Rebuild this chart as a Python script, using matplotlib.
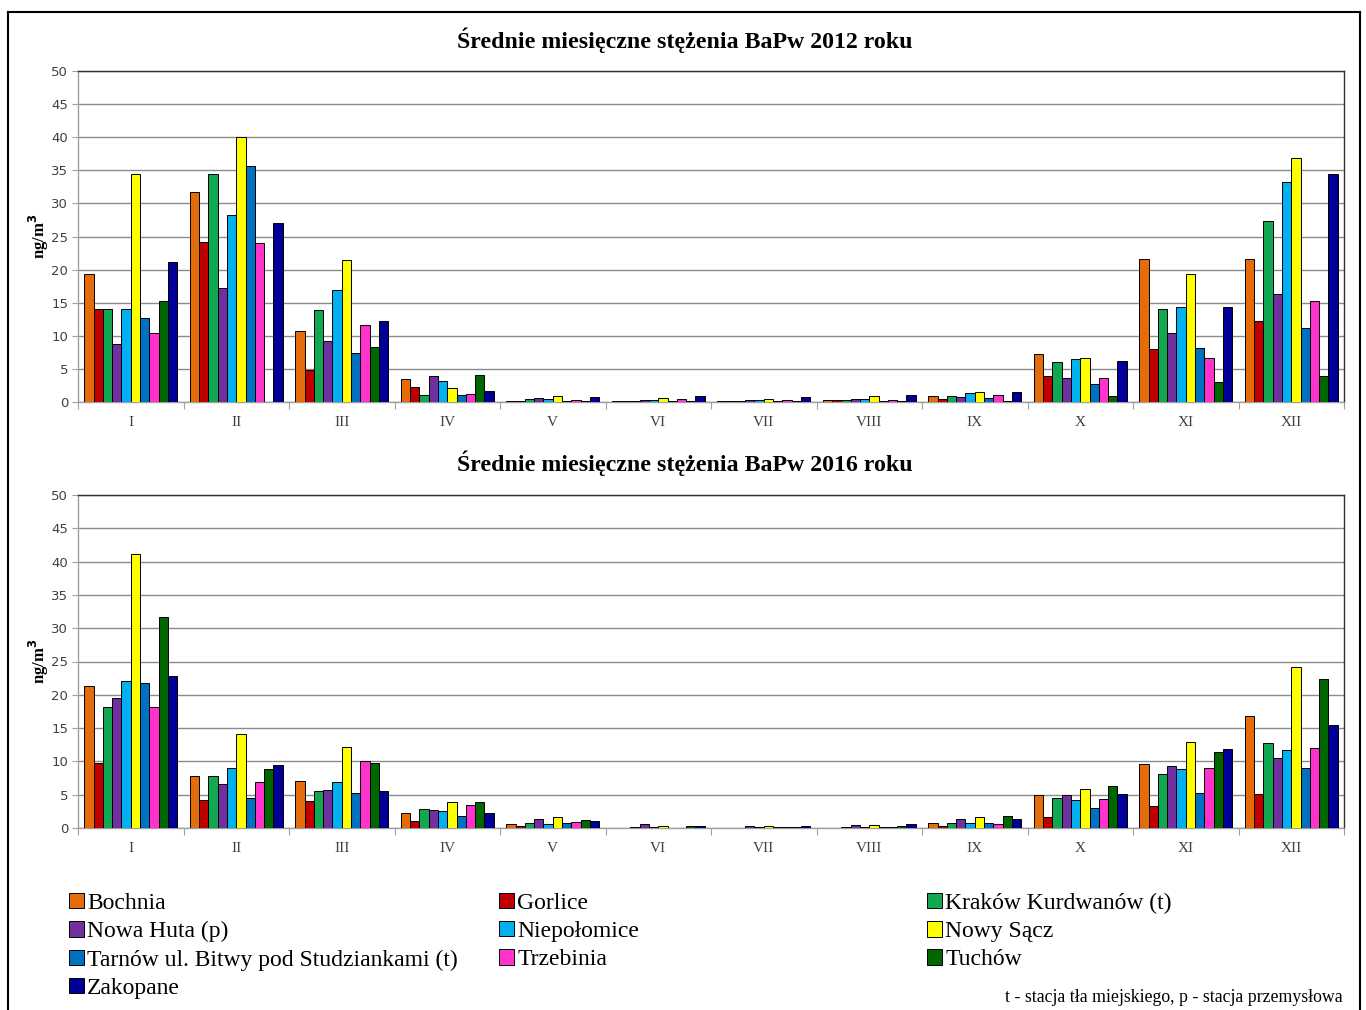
import matplotlib
matplotlib.use('Agg')
import matplotlib.pyplot as plt
import numpy as np
from matplotlib.patches import Patch
from matplotlib.lines import Line2D

months = ['I', 'II', 'III', 'IV', 'V', 'VI', 'VII', 'VIII', 'IX', 'X', 'XI', 'XII']

stations = ['Bochnia', 'Gorlice', 'Kraków Kurdwanów (t)', 'Nowa Huta (p)', 'Niepołomice',
            'Nowy Sącz', 'Tarnów ul. Bitwy pod Studziankami (t)', 'Trzebinia', 'Tuchów', 'Zakopane']

colors = ['#E46C0A', '#C00000', '#12A852', '#7030A0', '#00B0F0',
          '#FFFF00', '#0070C0', '#FF33CC', '#006600', '#000099']

# rows = months, columns = stations (same order as above)
bap_2012 = [
    [19.4, 14.1, 14.1, 8.7, 14.1, 34.5, 12.7, 10.4, 15.2, 21.2],
    [31.7, 24.2, 34.4, 17.2, 28.2, 40.1, 35.6, 24.0, 0.0, 27.1],
    [10.8, 4.8, 13.9, 9.2, 16.9, 21.5, 7.4, 11.6, 8.3, 12.3],
    [3.4, 2.2, 1.0, 3.9, 3.2, 2.1, 1.0, 1.2, 4.1, 1.7],
    [0.2, 0.2, 0.45, 0.55, 0.4, 0.85, 0.2, 0.35, 0.15, 0.75],
    [0.15, 0.1, 0.15, 0.25, 0.25, 0.55, 0.1, 0.4, 0.1, 0.85],
    [0.2, 0.15, 0.15, 0.25, 0.25, 0.45, 0.1, 0.35, 0.1, 0.75],
    [0.3, 0.3, 0.3, 0.4, 0.4, 0.85, 0.15, 0.35, 0.1, 1.05],
    [0.85, 0.45, 0.85, 0.7, 1.4, 1.55, 0.55, 1.0, 0.15, 1.55],
    [7.25, 3.9, 6.05, 3.6, 6.45, 6.6, 2.7, 3.6, 0.9, 6.15],
    [21.6, 8.05, 14.0, 10.45, 14.4, 19.4, 8.2, 6.7, 3.05, 14.4],
    [21.6, 12.2, 27.4, 16.3, 33.2, 36.8, 11.15, 15.3, 4.0, 34.4],
]

bap_2016 = [
    [21.35, 9.7, 18.1, 19.45, 22.0, 41.1, 21.75, 18.1, 31.7, 22.8],
    [7.75, 4.15, 7.85, 6.55, 9.0, 14.1, 4.55, 6.9, 8.85, 9.5],
    [7.05, 4.0, 5.6, 5.75, 6.95, 12.15, 5.2, 10.05, 9.8, 5.6],
    [2.25, 1.0, 2.9, 2.75, 2.6, 3.9, 1.8, 3.45, 3.9, 2.25],
    [0.6, 0.3, 0.75, 1.3, 0.6, 1.7, 0.75, 0.85, 1.15, 1.0],
    [0.05, 0.05, 0.2, 0.6, 0.1, 0.35, 0.05, 0.05, 0.3, 0.3],
    [0.05, 0.05, 0.05, 0.35, 0.1, 0.25, 0.1, 0.2, 0.2, 0.3],
    [0.05, 0.05, 0.2, 0.45, 0.2, 0.45, 0.1, 0.2, 0.3, 0.6],
    [0.7, 0.3, 0.7, 1.4, 0.7, 1.7, 0.7, 0.55, 1.8, 1.4],
    [4.9, 1.6, 4.55, 4.95, 4.25, 5.9, 2.95, 4.4, 6.3, 5.1],
    [9.65, 3.35, 8.15, 9.35, 8.85, 12.95, 5.25, 9.0, 11.35, 11.8],
    [16.85, 5.1, 12.7, 10.55, 11.65, 24.1, 9.0, 11.95, 22.35, 15.4],
]

titles = ['Średnie miesięczne stężenia BaPw 2012 roku',
          'Średnie miesięczne stężenia BaPw 2016 roku']

SERIF = 'Liberation Serif'

fig = plt.figure(figsize=(13.66, 10.10), dpi=100)
fig.patch.set_facecolor('white')

W, H = 1366.0, 1010.0


def draw_panel(ax, data):
    data = np.array(data)
    n = data.shape[1]
    x = np.arange(len(months))
    bw = 0.088
    for j in range(n):
        ax.bar(x + (j - (n - 1) / 2) * bw, data[:, j], width=bw, color=colors[j],
               edgecolor='black', linewidth=0.7, zorder=3)
    ax.set_xlim(-0.5, len(months) - 0.5)
    ax.set_ylim(0, 50)
    ax.set_yticks(np.arange(0, 51, 5))
    ax.yaxis.grid(True, color='#8c8c8c', linewidth=1.0, zorder=0)
    ax.set_axisbelow(True)
    ax.set_xticks(np.arange(-0.5, len(months), 1.0))
    ax.set_xticklabels([])
    ax.set_xticks(x, minor=True)
    ax.set_xticklabels(months, minor=True, family=SERIF, fontsize=11, color='#404040')
    ax.tick_params(axis='x', which='major', length=5, color='#a0a0a0', direction='out')
    ax.tick_params(axis='x', which='minor', length=0, pad=10)
    ax.tick_params(axis='y', length=4, color='#a0a0a0', labelsize=9.5,
                   labelcolor='#404040', pad=3)
    for s in ['top', 'right']:
        ax.spines[s].set_color('#303030')
        ax.spines[s].set_linewidth(1.0)
    for s in ['left', 'bottom']:
        ax.spines[s].set_color('#a0a0a0')
        ax.spines[s].set_linewidth(1.0)
    ax.set_ylabel('ng/m$^\\mathbf{3}$', family=SERIF, fontsize=12, fontweight='bold',
                  labelpad=0)


ax1 = fig.add_axes([78 / W, 1 - 402 / H, (1344 - 78) / W, (402 - 71) / H])
ax2 = fig.add_axes([78 / W, 1 - 828 / H, (1344 - 78) / W, (828 - 495) / H])
draw_panel(ax1, bap_2012)
draw_panel(ax2, bap_2016)

fig.text(685 / W, 1 - 40 / H, titles[0], ha='center', va='center', family=SERIF,
         fontsize=17.2, fontweight='bold')
fig.text(685 / W, 1 - 463 / H, titles[1], ha='center', va='center', family=SERIF,
         fontsize=17.2, fontweight='bold')

# legend: three separate columns, filled row by row
handles = [Patch(facecolor=c, edgecolor='black', linewidth=0.7) for c in colors]
cols = [[0, 3, 6, 9], [1, 4, 7], [2, 5, 8]]
col_x = [69, 499, 927]
for cx, idx in zip(col_x, cols):
    fig.legend([handles[i] for i in idx], [stations[i] for i in idx],
               loc='upper left', bbox_to_anchor=(cx / W, 1 - 893 / H),
               frameon=False, prop={'family': SERIF, 'size': 17},
               handlelength=0.62, handleheight=0.62, handletextpad=0.15,
               labelspacing=0.3, borderpad=0.0, borderaxespad=0.0)

fig.text(1343 / W, 1 - 998 / H, 't - stacja tła miejskiego, p - stacja przemysłowa',
         ha='right', va='center', family=SERIF, fontsize=12.8)

# outer frame
fx0, fx1, fy0 = 8 / W, 1360 / W, 1 - 12 / H
fig.add_artist(Line2D([fx0, fx1], [fy0, fy0], color='black', lw=1.5, transform=fig.transFigure))
fig.add_artist(Line2D([fx0, fx0], [0, fy0], color='black', lw=1.5, transform=fig.transFigure))
fig.add_artist(Line2D([fx1, fx1], [0, fy0], color='black', lw=1.5, transform=fig.transFigure))

fig.savefig('out.png', dpi=100, facecolor='white')
